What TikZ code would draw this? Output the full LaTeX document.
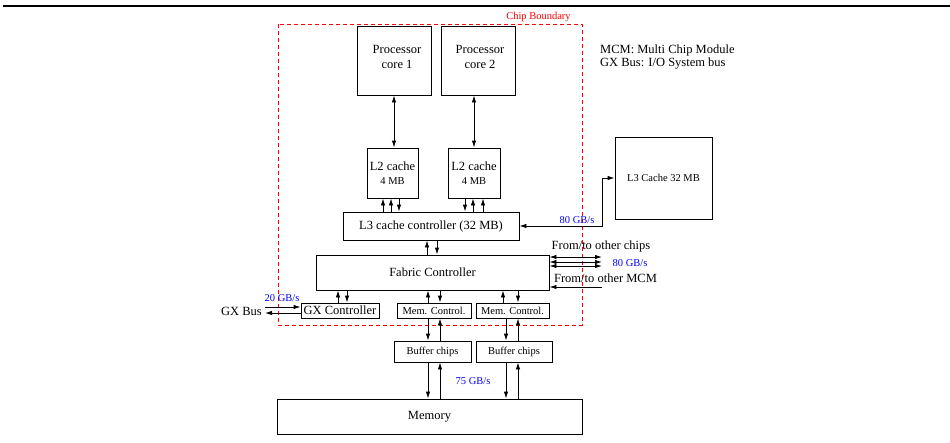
\documentclass[tikz,border=0pt]{standalone}
\usepackage{fontspec}
\setmainfont{Liberation Serif}
\usetikzlibrary{arrows.meta,calc}
\newcommand\fA{\fontsize{12.5}{14}\selectfont}
\newcommand\fB{\fontsize{10.5}{12}\selectfont}
\begin{document}
\begin{tikzpicture}[x=1pt,y=-1pt,
  >={Latex[length=7pt,width=4.5pt]},
  box/.style={draw, line width=0.9pt, inner sep=0pt, font=\fA, align=center},
  sbox/.style={box, font=\fB},
  conn/.style={line width=0.9pt},
  bw/.style={text=blue, font=\fB},
  lbl/.style={font=\fA, inner sep=0pt}]
\useasboundingbox (0,0) rectangle (950,442);
% top rule
\draw[line width=1.4pt] (3,6) -- (950,6);
% chip boundary
\draw[red, line width=0.8pt, dash pattern=on 4pt off 3pt] (278,24) rectangle (582,325);
\node[text=red, font=\fB] (cb) at (538.5,17) {Chip Boundary};
% legend
\node[lbl, anchor=west] (leg1) at (600,50) {MCM: Multi Chip Module};
\node[lbl, anchor=west] (leg2) at (600,64) {GX Bus: I/O System bus};
% boxes
\node[box, minimum width=74pt, minimum height=69pt] (core1) at (394,60.5) {};
\node[lbl, align=center] (core1t) at (397,57) {Processor\\[1pt]core 1};
\node[box, minimum width=74pt, minimum height=69pt] (core2) at (478,60.5) {};
\node[lbl, align=center] (core2t) at (480,57) {Processor\\[1pt]core 2};
\node[box, minimum width=51pt, minimum height=50pt] (l2a) at (392.5,173) {L2 cache\\{\fB 4 MB}};
\node[box, minimum width=52pt, minimum height=50pt] (l2b) at (474,173) {L2 cache\\{\fB 4 MB}};
\node[box, minimum width=176pt, minimum height=28pt] (l3c) at (431,226) {L3 cache controller (32 MB)};
\node[box, minimum width=233pt, minimum height=35pt] (fab) at (432.5,272.5) {Fabric Controller};
\node[box, minimum width=78pt, minimum height=15pt] (gx) at (340,310.5) {GX Controller};
\node[sbox, minimum width=74pt, minimum height=15pt] (mc1) at (434,310.5) {Mem. Control.};
\node[sbox, minimum width=73pt, minimum height=15pt] (mc2) at (512.5,310.5) {Mem. Control.};
\node[sbox, minimum width=77pt, minimum height=21pt] (bf1) at (432.5,351.5) {Buffer chips};
\node[sbox, minimum width=76pt, minimum height=21pt] (bf2) at (514,351.5) {Buffer chips};
\node[box, minimum width=305pt, minimum height=35pt] (mem) at (429.5,416.5) {Memory};
\node[sbox, minimum width=97pt, minimum height=82pt] (l3) at (663.5,178) {L3 Cache 32 MB};
% cores to L2
\draw[conn,<->] (core1.south) -- (core1.south |- l2a.north);
\draw[conn,<->] (l2b.north) -- (l2b.north |- core2.south);
% L2 to L3 controller
\draw[conn,->] (383,0 |- l3c.north) -- (383,0 |- l2a.south);
\draw[conn,->] (391,0 |- l3c.north) -- (391,0 |- l2a.south);
\draw[conn,->] (399,0 |- l2a.south) -- (399,0 |- l3c.north);
\draw[conn,->] (465,0 |- l2b.south) -- (465,0 |- l3c.north);
\draw[conn,->] (473,0 |- l3c.north) -- (473,0 |- l2b.south);
\draw[conn,->] (483,0 |- l3c.north) -- (483,0 |- l2b.south);
% L3 controller to fabric
\draw[conn,->] (427,0 |- fab.north) -- (427,0 |- l3c.south);
\draw[conn,->] (437,0 |- l3c.south) -- (437,0 |- fab.north);
% L3 controller to L3 cache
\coordinate (bend) at ($(l3.west)+(-12,0)$);
\draw[conn,<->] (l3c.east) -| (bend) -- (l3.west);
\node[bw] (bw1) at (577,220) {80 GB/s};
% fabric to controllers
\draw[conn,->] (338,0 |- gx.north) -- (338,0 |- fab.south);
\draw[conn,->] (347,0 |- fab.south) -- (347,0 |- gx.north);
\draw[conn,->] (428,0 |- mc1.north) -- (428,0 |- fab.south);
\draw[conn,->] (440,0 |- fab.south) -- (440,0 |- mc1.north);
\draw[conn,->] (503,0 |- mc2.north) -- (503,0 |- fab.south);
\draw[conn,->] (518,0 |- fab.south) -- (518,0 |- mc2.north);
% mem controllers to buffers
\draw[conn,->] (428,0 |- mc1.south) -- (428,0 |- bf1.north);
\draw[conn,->] (440,0 |- bf1.north) -- (440,0 |- mc1.south);
\draw[conn,->] (506,0 |- mc2.south) -- (506,0 |- bf2.north);
\draw[conn,->] (518,0 |- bf2.north) -- (518,0 |- mc2.south);
% buffers to memory
\draw[conn,->] (428,0 |- bf1.south) -- (428,0 |- mem.north);
\draw[conn,->] (440,0 |- mem.north) -- (440,0 |- bf1.south);
\draw[conn,->] (506,0 |- bf2.south) -- (506,0 |- mem.north);
\draw[conn,->] (518,0 |- mem.north) -- (518,0 |- bf2.south);
\node[bw] (bw3) at (473,381) {75 GB/s};
% fabric to other chips / MCM
\coordinate (oc1) at (602,257);
\coordinate (oc2) at (602,262);
\coordinate (oc3) at (602,266);
\coordinate (om) at (602,287);
\draw[conn,<->] (fab.east |- oc1) -- (oc1);
\draw[conn,<->] (fab.east |- oc2) -- (oc2);
\draw[conn,<->] (fab.east |- oc3) -- (oc3);
\draw[conn,<-] (fab.east |- om) -- (om);
\node[lbl] (toc) at (601,246) {From/to other chips};
\node[bw] (bw2) at (630,263) {80 GB/s};
\node[lbl] (tom) at (605.5,278) {From/to other MCM};
% GX bus
\coordinate (gxi) at (265,307);
\coordinate (gxo) at (265,313);
\draw[conn,->] (gxi) -- (gx.west |- gxi);
\draw[conn,->] (gx.west |- gxo) -- (gxo);
\node[lbl, anchor=east] (gxb) at (262,311) {GX Bus};
\node[bw] (bw4) at (282,298) {20 GB/s};
\end{tikzpicture}
\end{document}
